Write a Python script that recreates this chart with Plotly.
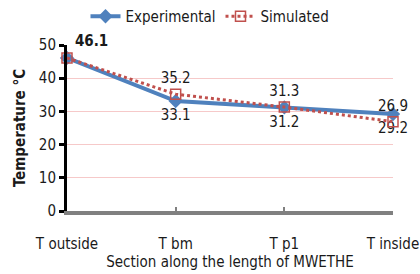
import plotly.graph_objects as go

categories = ["T outside", "T bm", "T p1", "T inside"]
experimental = [46.1, 33.1, 31.2, 29.2]
simulated = [46.1, 35.2, 31.3, 26.9]
exp_labels = ["<b>46.1</b>", "33.1", "31.2", "29.2"]
sim_labels = ["", "35.2", "31.3", "26.9"]

FONT = "DejaVu Sans Condensed, Liberation Sans Narrow, sans-serif"
TXT = "#1a1a1a"

fig = go.Figure()
fig.add_trace(go.Scatter(
    x=categories, y=experimental, name="Experimental",
    mode="lines+markers+text",
    line=dict(color="#4F81BD", width=4),
    marker=dict(symbol="diamond", size=11, color="#4F81BD"),
    text=exp_labels,
    textposition=["top right", "bottom center", "bottom center", "bottom center"],
    textfont=dict(family=FONT, size=15, color=TXT),
    cliponaxis=False,
))
fig.add_trace(go.Scatter(
    x=categories, y=simulated, name="Simulated",
    mode="lines+markers+text",
    line=dict(color="#C0504D", width=3, dash="dot"),
    marker=dict(symbol="square-open", size=10, color="#C0504D", line=dict(width=1.5)),
    text=sim_labels,
    textposition="top center",
    textfont=dict(family=FONT, size=15, color=TXT),
    cliponaxis=False,
))

fig.update_layout(
    width=420, height=274,
    margin=dict(l=67, r=27, t=45, b=63),
    paper_bgcolor="white", plot_bgcolor="white",
    font=dict(family=FONT, size=15, color=TXT),
    hovermode=False,
    showlegend=True,
    legend=dict(orientation="h", xref="container", x=0.5, xanchor="center",
                y=1.0, yanchor="top", yref="container", font=dict(size=15),
                bgcolor="rgba(0,0,0,0)"),
)
fig.update_xaxes(
    type="category", range=[0, 3], showgrid=False, automargin=False,
    showline=True, linecolor="#808080", linewidth=4,
    ticks="inside", tickcolor="#808080", ticklen=4, tickwidth=2,
    ticklabelstandoff=16,
    title=dict(text="Section along the length of MWETHE", standoff=0,
               font=dict(size=15)),
    zeroline=False,
)
fig.update_yaxes(
    range=[0, 50], dtick=10, showgrid=True, gridcolor="#F6C9C9", gridwidth=1,
    automargin=False,
    showline=True, linecolor="black", linewidth=3,
    ticks="outside", tickcolor="black", ticklen=5, tickwidth=3,
    title=dict(text="<b>Temperature °C</b>", standoff=10, font=dict(size=15)),
    zeroline=False,
)

fig.write_html("out.html", config={"displayModeBar": False},
               post_script="document.body.style.margin='0';document.body.style.overflow='hidden';")
